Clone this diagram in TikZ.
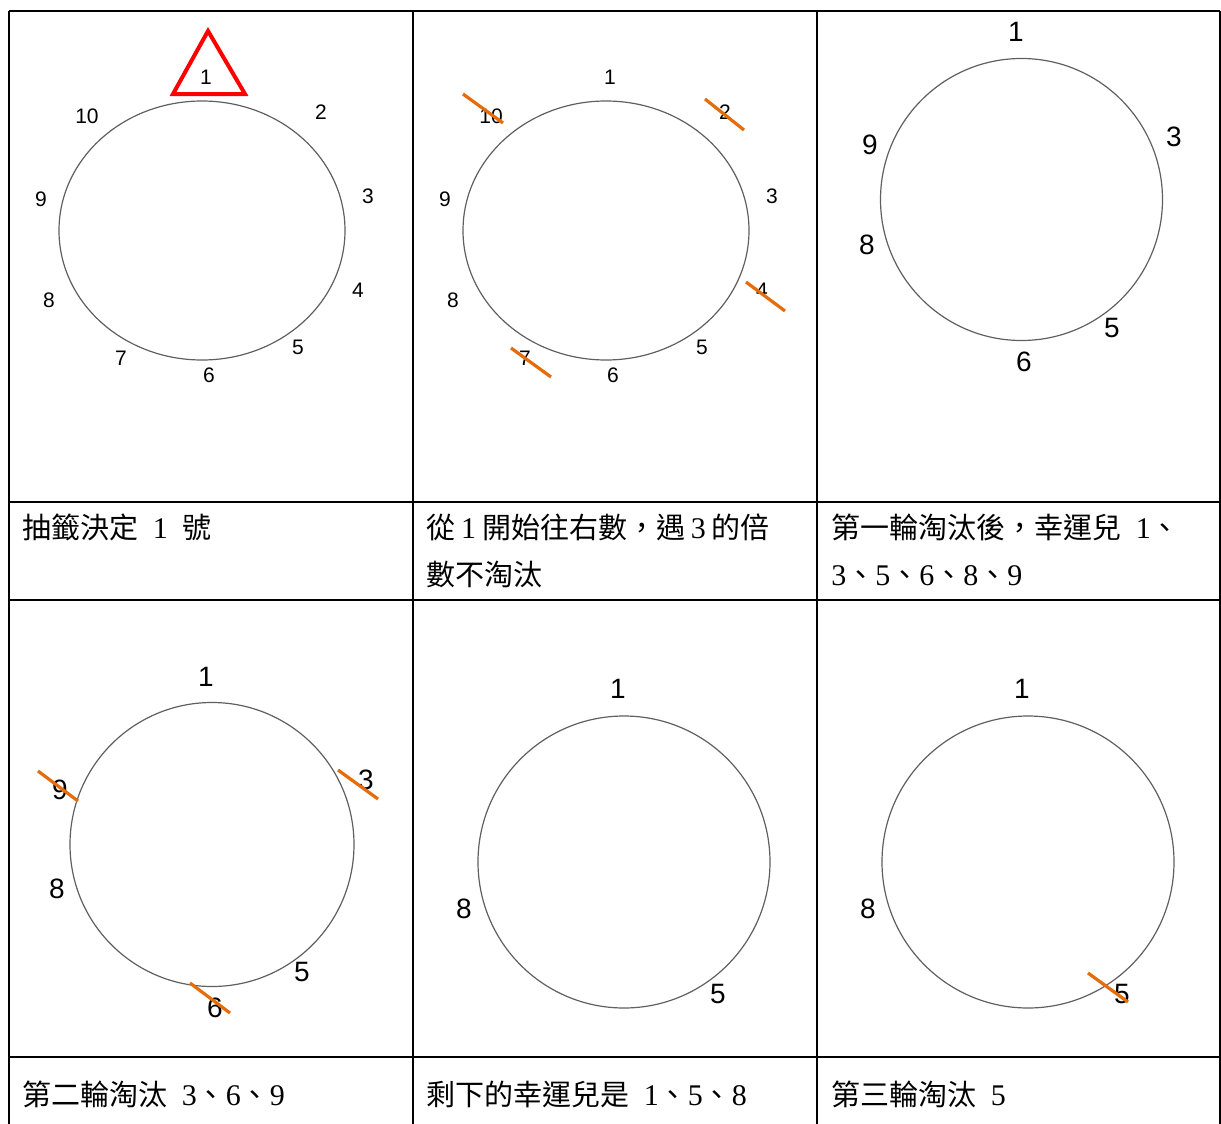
\documentclass[tikz,border=0pt]{standalone}
\usepackage{fontspec}
\setmainfont{Liberation Serif}
\setsansfont{Liberation Sans}
\newfontfamily\cjk{Noto Sans CJK TC}
\usepackage{tikz}
\definecolor{ringgray}{RGB}{95,95,95}
\definecolor{strikeorange}{RGB}{228,108,10}
\definecolor{markred}{RGB}{255,0,0}
\newcommand\dg[1]{{\rmfamily\fontsize{15}{16}\selectfont#1}}
\newcommand\gap{\hspace{0.5em}}

\begin{document}
\begin{tikzpicture}[x=0.5pt,y=-0.5pt,
  grid/.style={line width=1pt},
  ring/.style={draw=ringgray,line width=0.6pt},
  num/.style={font=\sffamily\fontsize{10.5}{12}\selectfont,inner sep=0},
  bignum/.style={font=\sffamily\fontsize{14}{16}\selectfont,inner sep=0},
  strike/.style={draw=strikeorange,line width=1.6pt},
  captxt/.style={anchor=base west,inner sep=0,font=\cjk\fontsize{14.5}{16}\selectfont}
]
  \useasboundingbox (0,0) rectangle (1221,1124);
  % table
  \foreach \gx in {9,412.5,817,1220}
    \draw[grid] (\gx,11) -- (\gx,1126);
  \foreach \gy in {11,502,600,1057}
    \draw[grid] (9,\gy) -- (1220,\gy);

  % panels 1 and 2: ten people
  \foreach \p/\dx in {a/0,b/404}{
    \draw[ring] (202+\dx,230.5) ellipse [x radius=143, y radius=129.5];
    \node[num] (\p1)  at (206+\dx,77)  {1};
    \node[num] (\p2)  at (321+\dx,112) {2};
    \node[num] (\p3)  at (368+\dx,196) {3};
    \node[num] (\p4)  at (358+\dx,290) {4};
    \node[num] (\p5)  at (298+\dx,347) {5};
    \node[num] (\p6)  at (209+\dx,375) {6};
    \node[num] (\p7)  at (121+\dx,358) {7};
    \node[num] (\p8)  at (49+\dx,300)  {8};
    \node[num] (\p9)  at (41+\dx,199)  {9};
    \node[num] (\p10) at (87+\dx,116)  {10};
  }
  \draw[markred,line width=2pt,line join=miter] (208,31) -- (245,94) -- (173,94) -- cycle;
  \draw[strike] (463,94) -- (503,123);
  \draw[strike] (705,99) -- (744,130);
  \draw[strike] (746,282) -- (785,311);
  \draw[strike] (511,348) -- (551,377);

  % panel 3
  \draw[ring] (1021.5,199.5) circle [radius=141];
  \node[bignum] (c1) at (1016,32)  {1};
  \node[bignum] (c3) at (1174,137) {3};
  \node[bignum] (c5) at (1112,328) {5};
  \node[bignum] (c6) at (1024,362) {6};
  \node[bignum] (c8) at (867,245)  {8};
  \node[bignum] (c9) at (870,145)  {9};

  % panel 4
  \draw[ring] (212,844.5) circle [radius=142];
  \node[bignum] (d1) at (206,677) {1};
  \node[bignum] (d3) at (366,780) {3};
  \node[bignum] (d5) at (302,972) {5};
  \node[bignum] (d6) at (215,1008) {6};
  \node[bignum] (d8) at (57,889)  {8};
  \node[bignum] (d9) at (60,790)  {9};
  \draw[strike] (38,771) -- (78,801);
  \draw[strike] (338,770) -- (378,799);
  \draw[strike] (190,983) -- (230,1013);

  % panels 5 and 6
  \foreach \p/\dx in {e/0,f/404}{
    \draw[ring] (624+\dx,862) circle [radius=146];
    \node[bignum] (\p1) at (618+\dx,689) {1};
    \node[bignum] (\p5) at (718+\dx,994) {5};
    \node[bignum] (\p8) at (464+\dx,909) {8};
  }
  \draw[strike] (1088,973) -- (1128,1002);

  % captions
  \node[captxt] (t1)  at (22,538)   {抽籤決定\gap\dg{1}\gap 號};
  \node[captxt] (t2a) at (426,538)  {從\hspace{0.2em}\dg{1}\hspace{0.2em}開始往右數，遇\hspace{0.2em}\dg{3}\hspace{0.2em}的倍};
  \node[captxt] (t2b) at (426,585)  {數不淘汰};
  \node[captxt] (t3a) at (831,538)  {第一輪淘汰後，幸運兒\gap\dg{1}、};
  \node[captxt] (t3b) at (831,585)  {\dg{3}、\dg{5}、\dg{6}、\dg{8}、\dg{9}};
  \node[captxt] (t4)  at (22,1105)  {第二輪淘汰\gap\dg{3}、\dg{6}、\dg{9}};
  \node[captxt] (t5)  at (426,1105) {剩下的幸運兒是\gap\dg{1}、\dg{5}、\dg{8}};
  \node[captxt] (t6)  at (831,1105) {第三輪淘汰\gap\dg{5}};
\end{tikzpicture}
\end{document}
